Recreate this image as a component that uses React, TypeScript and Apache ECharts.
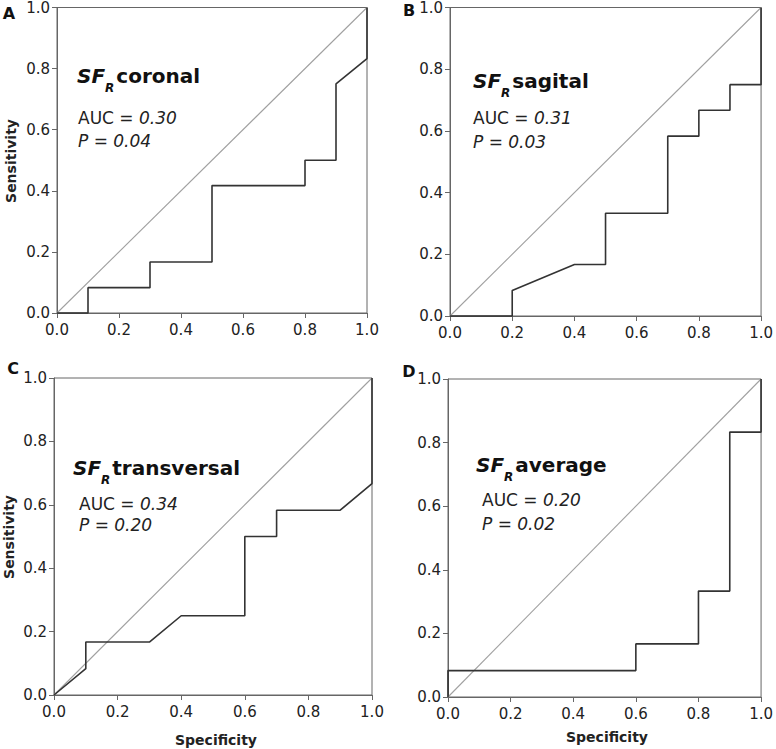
import React, { useEffect, useRef } from "react";
import * as echarts from "echarts";

const panelLetters = ["A", "B", "C", "D"];
const panelNames = ["coronal", "sagital", "transversal", "average"];
const aucValues = ["0.30", "0.31", "0.34", "0.20"];
const pValues = ["0.04", "0.03", "0.20", "0.02"];

const rocAx = [0, 0.1, 0.1, 0.3, 0.3, 0.5, 0.5, 0.8, 0.8, 0.9, 0.9, 1.0, 1.0];
const rocAy = [0, 0, 0.083, 0.083, 0.167, 0.167, 0.417, 0.417, 0.5, 0.5, 0.75, 0.833, 1.0];
const rocBx = [0, 0.2, 0.2, 0.4, 0.5, 0.5, 0.7, 0.7, 0.8, 0.8, 0.9, 0.9, 1.0, 1.0];
const rocBy = [0, 0, 0.083, 0.167, 0.167, 0.333, 0.333, 0.583, 0.583, 0.667, 0.667, 0.75, 0.75, 1.0];
const rocCx = [0, 0.1, 0.1, 0.3, 0.4, 0.6, 0.6, 0.7, 0.7, 0.9, 1.0, 1.0];
const rocCy = [0, 0.083, 0.167, 0.167, 0.25, 0.25, 0.5, 0.5, 0.583, 0.583, 0.667, 1.0];
const rocDx = [0, 0, 0.6, 0.6, 0.8, 0.8, 0.9, 0.9, 1.0, 1.0];
const rocDy = [0, 0.083, 0.083, 0.167, 0.167, 0.333, 0.333, 0.833, 0.833, 1.0];
const diagonalX = [0, 1];
const diagonalY = [0, 1];

const rocX = [rocAx, rocBx, rocCx, rocDx];
const rocY = [rocAy, rocBy, rocCy, rocDy];

const FONT = "DejaVu Sans";

// layout (pixels)
const grids = [
  { left: 57, top: 5, width: 310, height: 308 },
  { left: 450, top: 5, width: 312, height: 311 },
  { left: 54, top: 378, width: 318, height: 317 },
  { left: 448, top: 379, width: 317, height: 318 },
];
const titlePos = [
  { x: 77, t: 76, a: 117.5, p: 141, ax: 78 },
  { x: 473, t: 81, a: 118, p: 141.5, ax: 473 },
  { x: 73, t: 467.5, a: 503.5, p: 525, ax: 79 },
  { x: 476, t: 464.5, a: 500, p: 523.5, ax: 482 },
];
const letterPos = [
  { x: 9, y: 13 },
  { x: 409, y: 10 },
  { x: 13, y: 368 },
  { x: 409, y: 371 },
];

const zip = (xs: number[], ys: number[]) => xs.map((x, i) => [x, ys[i]]);

export default function App() {
  const ref = useRef<HTMLDivElement>(null);
  useEffect(() => {
    if (!ref.current) return;
    const chart = echarts.init(ref.current, undefined, { renderer: "svg" });
    const axisCommon = {
      type: "value" as const,
      min: 0,
      max: 1,
      interval: 0.2,
      splitLine: { show: false },
      axisLine: { show: true, lineStyle: { color: "#666", width: 1 } },
      axisTick: { show: true, length: 5, lineStyle: { color: "#666" } },
    };
    const xAxis = grids.map((_, i) => ({
      ...axisCommon,
      gridIndex: i,
      axisLabel: {
        margin: 9,
        fontFamily: FONT,
        fontSize: 15,
        color: "#222",
        formatter: (v: number) => v.toFixed(1),
      },
    }));
    const yAxis = grids.map((_, i) => ({
      ...axisCommon,
      gridIndex: i,
      axisLabel: {
        margin: 7,
        fontFamily: FONT,
        fontSize: 15,
        color: "#222",
        formatter: (v: number) => v.toFixed(1),
      },
    }));
    const series: any[] = [];
    grids.forEach((_, i) => {
      series.push({
        type: "line",
        xAxisIndex: i,
        yAxisIndex: i,
        data: zip(diagonalX, diagonalY),
        showSymbol: false,
        lineStyle: { color: "#a0a0a0", width: 1.1 },
        silent: true,
      });
      series.push({
        type: "line",
        xAxisIndex: i,
        yAxisIndex: i,
        data: zip(rocX[i], rocY[i]),
        showSymbol: false,
        clip: false,
        lineStyle: { color: "#333", width: 1.6 },
        silent: true,
      });
    });
    const graphic: any[] = [];
    grids.forEach((_, i) => {
      const tp = titlePos[i];
      graphic.push({
        type: "text",
        x: tp.x,
        y: tp.t + 4,
        style: {
          text: `{sf|SF}{sub|R}{w|${panelNames[i]}}`,
          rich: {
            sf: {
              fontFamily: FONT,
              fontSize: 20,
              fontWeight: "bold",
              fontStyle: "italic",
              lineHeight: 20,
              padding: [0, 0, 8, 0],
              fill: "#111",
            },
            sub: {
              fontFamily: FONT,
              fontSize: 12,
              fontWeight: "bold",
              fontStyle: "italic",
              lineHeight: 12,
              padding: [16, 0, 0, 0],
              fill: "#111",
            },
            w: {
              fontFamily: FONT,
              fontSize: 20,
              fontWeight: "bold",
              lineHeight: 20,
              padding: [0, 0, 8, 2],
              fill: "#111",
            },
          },
          font: `bold 20px "${FONT}"`,
          fill: "#111",
          verticalAlign: "middle",
        },
      });
      graphic.push({
        type: "text",
        x: tp.ax,
        y: tp.a,
        style: {
          text: `{n|AUC = }{i|${aucValues[i]}}`,
          rich: {
            n: { fontFamily: FONT, fontSize: 17, fill: "#222" },
            i: { fontFamily: FONT, fontSize: 17, fontStyle: "italic", fill: "#222" },
          },
          font: `17px "${FONT}"`,
          fill: "#222",
          verticalAlign: "middle",
        },
      });
      graphic.push({
        type: "text",
        x: tp.ax,
        y: tp.p,
        style: {
          text: `P = ${pValues[i]}`,
          font: `italic 17px "${FONT}"`,
          fill: "#222",
          verticalAlign: "middle",
        },
      });
      graphic.push({
        type: "text",
        x: letterPos[i].x,
        y: letterPos[i].y,
        style: {
          text: panelLetters[i],
          font: `bold 16px "${FONT}"`,
          fill: "#111",
          align: "center",
          verticalAlign: "middle",
        },
      });
    });
    // axis titles
    [
      { x: 11, y: 161 },
      { x: 9, y: 537 },
    ].forEach((p) => {
      graphic.push({
        type: "text",
        x: p.x,
        y: p.y,
        rotation: Math.PI / 2,
        style: {
          text: "Sensitivity",
          font: `bold 14px "${FONT}"`,
          fill: "#222",
          align: "center",
          verticalAlign: "middle",
        },
      });
    });
    [
      { x: 216, y: 740 },
      { x: 607, y: 737 },
    ].forEach((p) => {
      graphic.push({
        type: "text",
        x: p.x,
        y: p.y,
        style: {
          text: "Specificity",
          font: `bold 14px "${FONT}"`,
          fill: "#222",
          align: "center",
          verticalAlign: "middle",
        },
      });
    });

    chart.setOption({
      animation: false,
      backgroundColor: "#fff",
      grid: grids.map((g) => ({
        ...g,
        show: true,
        borderColor: "#666",
        borderWidth: 1,
        backgroundColor: "transparent",
      })),
      xAxis,
      yAxis,
      series,
      graphic,
    });
    return () => chart.dispose();
  }, []);
  return (
    <div
      ref={ref}
      style={{ position: "fixed", left: 0, top: 0, width: 776, height: 749, background: "#fff" }}
    />
  );
}
